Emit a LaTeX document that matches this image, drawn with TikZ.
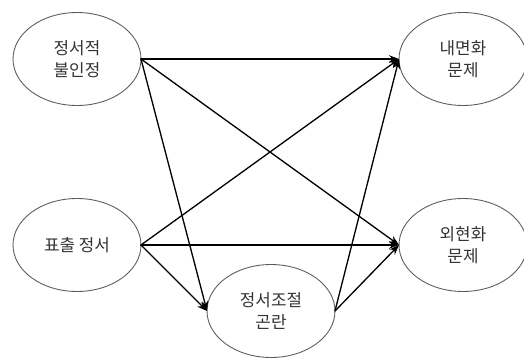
\documentclass[tikz,border=0pt]{standalone}
\usepackage{fontspec}
\setmainfont{Noto Sans CJK KR}
\usepackage{tikz}
\usetikzlibrary{arrows.meta,shapes.geometric}
\definecolor{rim}{HTML}{5A5A5A}
\definecolor{ink}{HTML}{333333}
\tikzset{
    every picture/.style={line cap=round,line join=round},
    varnode/.style={ellipse,draw=rim,line width=0.5pt,
      minimum width=2.56cm,minimum height=1.86cm,inner sep=0pt,outer sep=0pt,
      text=ink,font=\fontsize{9.6}{12.2}\selectfont,align=center},
    patharrow/.style={-{Stealth[length=2mm,width=1.5mm]},draw=black,
      line width=0.75pt}
}
\begin{document}
\begin{tikzpicture}[x=0.02cm,y=-0.02cm]
  \useasboundingbox (0,0) rectangle (524,358);
  \node[varnode] (disq) at (77,59) {정서적\\불인정};
  \node[varnode] (expr) at (77,245) {표출 정서};
  \node[varnode] (dysr) at (271,311) {정서조절\\곤란};
  \node[varnode] (intp) at (463,59) {내면화\\문제};
  \node[varnode] (extp) at (463,245) {외현화\\문제};
  % predictors to outcomes
  \draw[patharrow] (disq.east)--(intp.west);
  \draw[patharrow] (disq.east)--(extp.west);
  \draw[patharrow] (disq.east)--(dysr.west);
  \draw[patharrow] (expr.east)--(intp.west);
  \draw[patharrow] (expr.east)--(extp.west);
  \draw[patharrow] (expr.east)--(dysr.west);
  % mediator
  \draw[patharrow] (dysr.east)--(intp.west);
  \draw[patharrow] (dysr.east)--(extp.west);
\end{tikzpicture}
\end{document}
